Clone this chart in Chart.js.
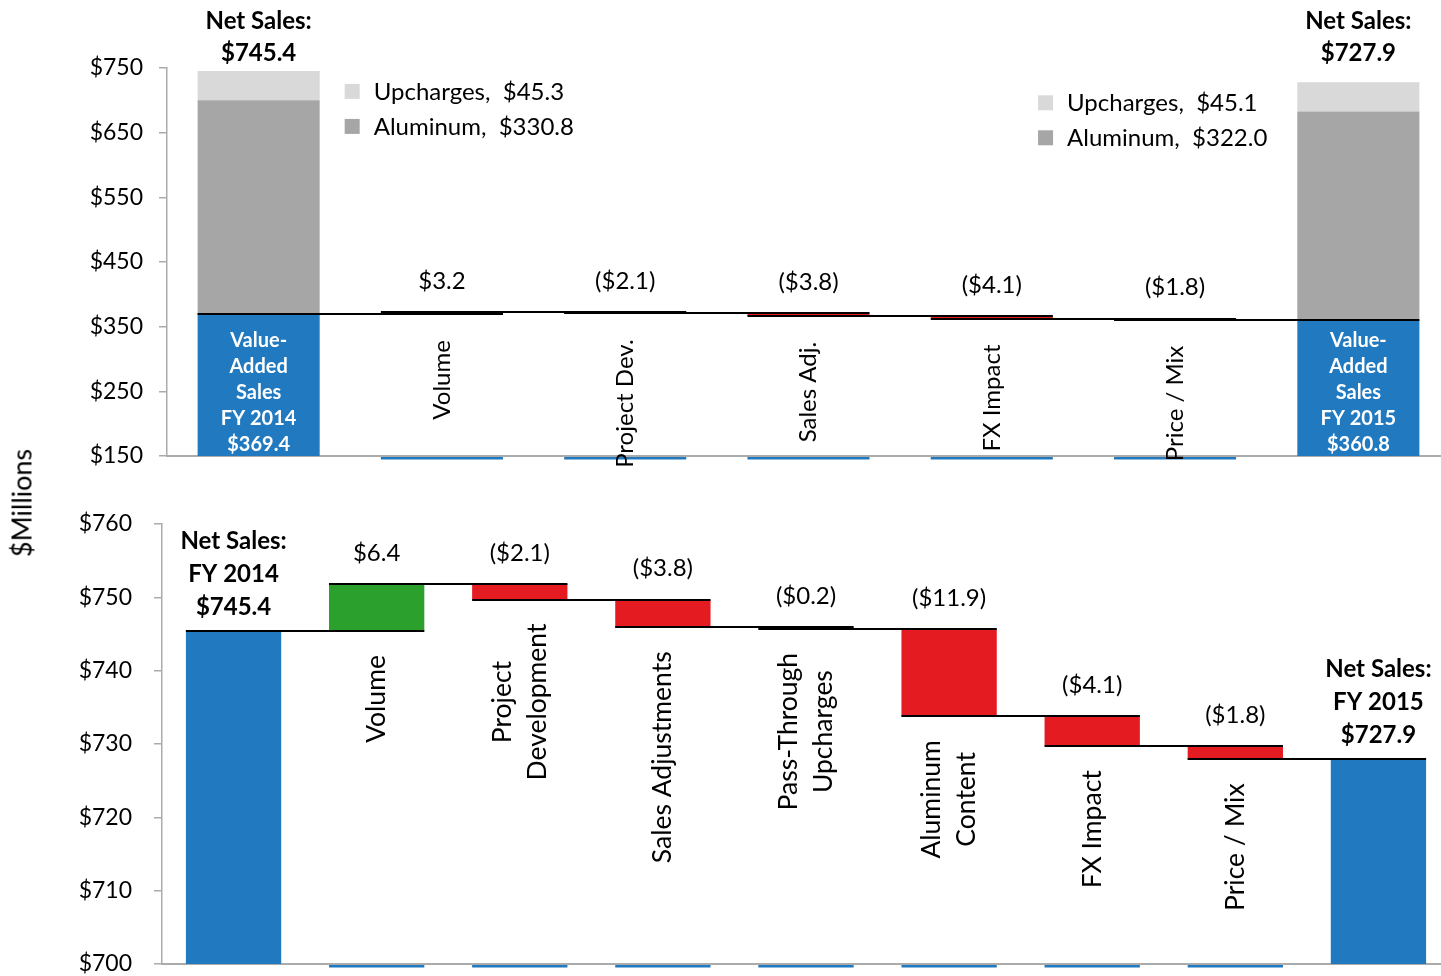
<!DOCTYPE html>
<html lang="en">
<head>
<meta charset="UTF-8">
<title>Net Sales Bridge FY 2014 to FY 2015</title>
<style>
  html, body { margin: 0; padding: 0; background: #fff; overflow: hidden; }
  body { width: 1441px; height: 976px; position: relative; font-family: Lato, sans-serif; }
  canvas { position: absolute; left: 0; }
  #topChart { top: 0; }
  #bottomChart { top: 476px; }
  .ylabel { position: absolute; left: 21px; top: 503px; transform: translate(-50%, -50%) rotate(-90deg);
            font-size: 27px; color: #000; white-space: nowrap; z-index: 2; }
</style>
</head>
<body>
<div class="ylabel">$Millions</div>
<canvas id="topChart" width="1452" height="476"></canvas>
<canvas id="bottomChart" width="1452" height="500"></canvas>

<script src="https://cdn.jsdelivr.net/npm/chart.js"></script>
<script>
// ---- data: top panel (value-added bridge) ----
const topCats = ['FY 2014', 'Volume', 'Project Dev.', 'Sales Adj.', 'FX Impact', 'Price / Mix', 'FY 2015'];
const topValueAdded = [369.4, null, null, null, null, null, 360.8];
const topAluminum = [330.8, null, null, null, null, null, 322.0];
const topUpcharges = [45.3, null, null, null, null, null, 45.1];
const topNetSales = [745.4, null, null, null, null, null, 727.9];
const topChanges = [null, 3.2, -2.1, -3.8, -4.1, -1.8, null];
const topTicks = [150, 250, 350, 450, 550, 650, 750];
const topStub = [144.6, 148.5];

// ---- data: bottom panel (net sales bridge) ----
const botCats = [['Net Sales:', 'FY 2014'], 'Volume', ['Project', 'Development'], 'Sales Adjustments',
  ['Pass-Through', 'Upcharges'], ['Aluminum', 'Content'], 'FX Impact', 'Price / Mix', ['Net Sales:', 'FY 2015']];
const botNetSales = [745.4, null, null, null, null, null, null, null, 727.9];
const botChanges = [null, 6.4, -2.1, -3.8, -0.2, -11.9, -4.1, -1.8, null];
const botTicks = [700, 710, 720, 730, 740, 750, 760];
const botStub = [699.52, 699.86];

const BLUE = '#2179BF', GREEN = '#2CA02C', RED = '#E41C21';
const UPCH = '#D9D9D9', ALUM = '#A6A6A6', AXIS = '#ABABAB';
const BAR_PCT = 0.666;
const FONT = 'Lato';

function fmt(v) {
  return v >= 0 ? '$' + v.toFixed(1) : '($' + Math.abs(v).toFixed(1) + ')';
}

// running levels of a waterfall: totals reset the level, changes float from it
function bridge(totals, changes) {
  const spans = [], levels = [];
  let run = null;
  totals.forEach((t, i) => {
    if (changes[i] == null) { run = t; spans.push(null); }
    else { const from = run; run = +(run + changes[i]).toFixed(1); spans.push([from, run]); }
    levels.push(run);
  });
  return { spans, levels };
}

const topBridge = bridge(topValueAdded, topChanges);
const botBridge = bridge(botNetSales, botChanges);

function halfBar(x) {
  return (x.getPixelForValue(1) - x.getPixelForValue(0)) * BAR_PCT / 2;
}

function drawConnectors(chart, levels) {
  const { ctx, scales: { x, y } } = chart;
  const half = halfBar(x);
  ctx.save();
  ctx.strokeStyle = '#000';
  ctx.lineWidth = 2;
  for (let i = 0; i < levels.length - 1; i++) {
    const yy = Math.round(y.getPixelForValue(levels[i]));
    ctx.beginPath();
    ctx.moveTo(x.getPixelForValue(i) - half, yy);
    ctx.lineTo(x.getPixelForValue(i + 1) + half, yy);
    ctx.stroke();
  }
  ctx.restore();
}

// vertical (rotated) text whose upper end sits at topY
function vText(ctx, lines, cx, topY, gap) {
  lines = [].concat(lines);
  const w = Math.max(...lines.map(s => ctx.measureText(s).width));
  ctx.save();
  ctx.translate(cx, topY + w / 2);
  ctx.rotate(-Math.PI / 2);
  ctx.textAlign = 'center';
  ctx.textBaseline = 'middle';
  lines.forEach((s, i) => ctx.fillText(s, 0, (i - (lines.length - 1) / 2) * gap));
  ctx.restore();
}

function options(ticks, yWidth, xHeight, padTop, tickPad) {
  return {
    responsive: false,
    animation: false,
    layout: { padding: { top: padTop, right: 2, left: 0, bottom: 0 } },
    plugins: { legend: { display: false }, tooltip: { enabled: false } },
    datasets: { bar: { grouped: false, categoryPercentage: 1, barPercentage: BAR_PCT, borderWidth: 0 } },
    scales: {
      x: {
        grid: { display: false },
        ticks: { display: false },
        border: { display: true, color: AXIS, width: 2 },
        afterFit: s => { s.height = xHeight; }
      },
      y: {
        min: ticks[0],
        max: ticks[ticks.length - 1],
        afterBuildTicks: s => { s.ticks = ticks.map(v => ({ value: v })); },
        grid: { drawOnChartArea: false, drawTicks: true, tickLength: 8, color: AXIS, lineWidth: 1.5 },
        border: { color: AXIS, width: 1.5 },
        ticks: { padding: tickPad, color: '#000', font: { family: FONT, size: 23 }, callback: v => '$' + v },
        afterFit: s => { s.width = yWidth; s.paddingTop = 0; s.paddingBottom = 0; }
      }
    }
  };
}

// ---- top chart ----
const topDecor = {
  id: 'topDecor',
  afterDatasetsDraw(chart) {
    const { ctx, chartArea, scales: { x, y } } = chart;
    drawConnectors(chart, topBridge.levels);
    const half = halfBar(x);
    ctx.save();
    ctx.fillStyle = '#000';
    ctx.textBaseline = 'middle';
    topCats.forEach((cat, i) => {
      const cx = x.getPixelForValue(i);
      const span = topBridge.spans[i];
      if (span) {
        ctx.font = '24px ' + FONT;
        ctx.textAlign = 'center';
        ctx.fillText(fmt(topChanges[i]), cx, y.getPixelForValue(Math.max(...span)) - 31);
        vText(ctx, cat, cx, y.getPixelForValue(Math.min(...span)) + 26, 30);
        return;
      }
      // totals: heading, inside label, segment labels
      ctx.font = 'bold 24px ' + FONT;
      ctx.textAlign = 'center';
      ctx.fillText('Net Sales:', cx, chartArea.top - 47);
      ctx.fillText('$' + topNetSales[i].toFixed(1), cx, chartArea.top - 15);

      ctx.font = 'bold 20px ' + FONT;
      ctx.fillStyle = '#fff';
      const inside = ['Value-', 'Added', 'Sales', cat, '$' + topValueAdded[i].toFixed(1)];
      inside.forEach((s, k) => ctx.fillText(s, cx, chartArea.bottom - 11 - (inside.length - 1 - k) * 26));
      ctx.fillStyle = '#000';

      ctx.font = '24px ' + FONT;
      const items = [['Upcharges,  $' + topUpcharges[i].toFixed(1), UPCH],
                     ['Aluminum,  $' + topAluminum[i].toFixed(1), ALUM]];
      const wMax = Math.max(...items.map(it => ctx.measureText(it[0]).width));
      const textLeft = i === 0 ? cx + half + 54 : cx - half - 30 - wMax;
      const barTop = y.getPixelForValue(topValueAdded[i] + topAluminum[i] + topUpcharges[i]);
      items.forEach((it, k) => {
        const ty = barTop + 20 + k * 35;
        ctx.fillStyle = it[1];
        ctx.fillRect(textLeft - 29, ty - 7, 15, 15);
        ctx.fillStyle = '#000';
        ctx.textAlign = 'left';
        ctx.fillText(it[0], textLeft, ty + 1);
      });
    });
    ctx.restore();
  }
};

new Chart(document.getElementById('topChart'), {
  type: 'bar',
  data: {
    labels: topCats,
    datasets: [
      { data: topValueAdded.map(v => v == null ? null : [0, v]), backgroundColor: BLUE },
      { data: topAluminum.map((v, i) => v == null ? null : [topValueAdded[i], topValueAdded[i] + v]), backgroundColor: ALUM },
      { data: topUpcharges.map((v, i) => v == null ? null :
          [topValueAdded[i] + topAluminum[i], topValueAdded[i] + topAluminum[i] + v]), backgroundColor: UPCH },
      { data: topBridge.spans, backgroundColor: topChanges.map(c => c > 0 ? GREEN : RED) },
      { data: topChanges.map(c => c == null ? null : topStub), backgroundColor: BLUE, clip: false }
    ]
  },
  options: options(topTicks, 167, 20, 68, 16),
  plugins: [topDecor]
});

// ---- bottom chart ----
const botDecor = {
  id: 'botDecor',
  afterDatasetsDraw(chart) {
    const { ctx, scales: { x, y } } = chart;
    drawConnectors(chart, botBridge.levels);
    ctx.save();
    ctx.fillStyle = '#000';
    ctx.textBaseline = 'middle';
    botCats.forEach((cat, i) => {
      const cx = x.getPixelForValue(i);
      const span = botBridge.spans[i];
      if (span) {
        ctx.font = '24px ' + FONT;
        ctx.textAlign = 'center';
        ctx.fillText(fmt(botChanges[i]), cx, y.getPixelForValue(Math.max(...span)) - 31);
        ctx.font = '26.5px ' + FONT;
        vText(ctx, cat, cx, y.getPixelForValue(Math.min(...span)) + 24, 35);
        return;
      }
      ctx.font = 'bold 24px ' + FONT;
      ctx.textAlign = 'center';
      const lines = [...cat, '$' + botNetSales[i].toFixed(1)];
      const top = y.getPixelForValue(botNetSales[i]);
      lines.forEach((s, k) => ctx.fillText(s, cx, top - 24 - (lines.length - 1 - k) * 33));
    });
    ctx.restore();
  }
};

new Chart(document.getElementById('bottomChart'), {
  type: 'bar',
  data: {
    labels: botCats,
    datasets: [
      { data: botNetSales.map(v => v == null ? null : [0, v]), backgroundColor: BLUE },
      { data: botBridge.spans, backgroundColor: botChanges.map(c => c > 0 ? GREEN : RED) },
      { data: botChanges.map(c => c == null ? null : botStub), backgroundColor: BLUE, clip: false }
    ]
  },
  options: options(botTicks, 162, 12, 48, 22),
  plugins: [botDecor]
});
</script>
</body>
</html>
